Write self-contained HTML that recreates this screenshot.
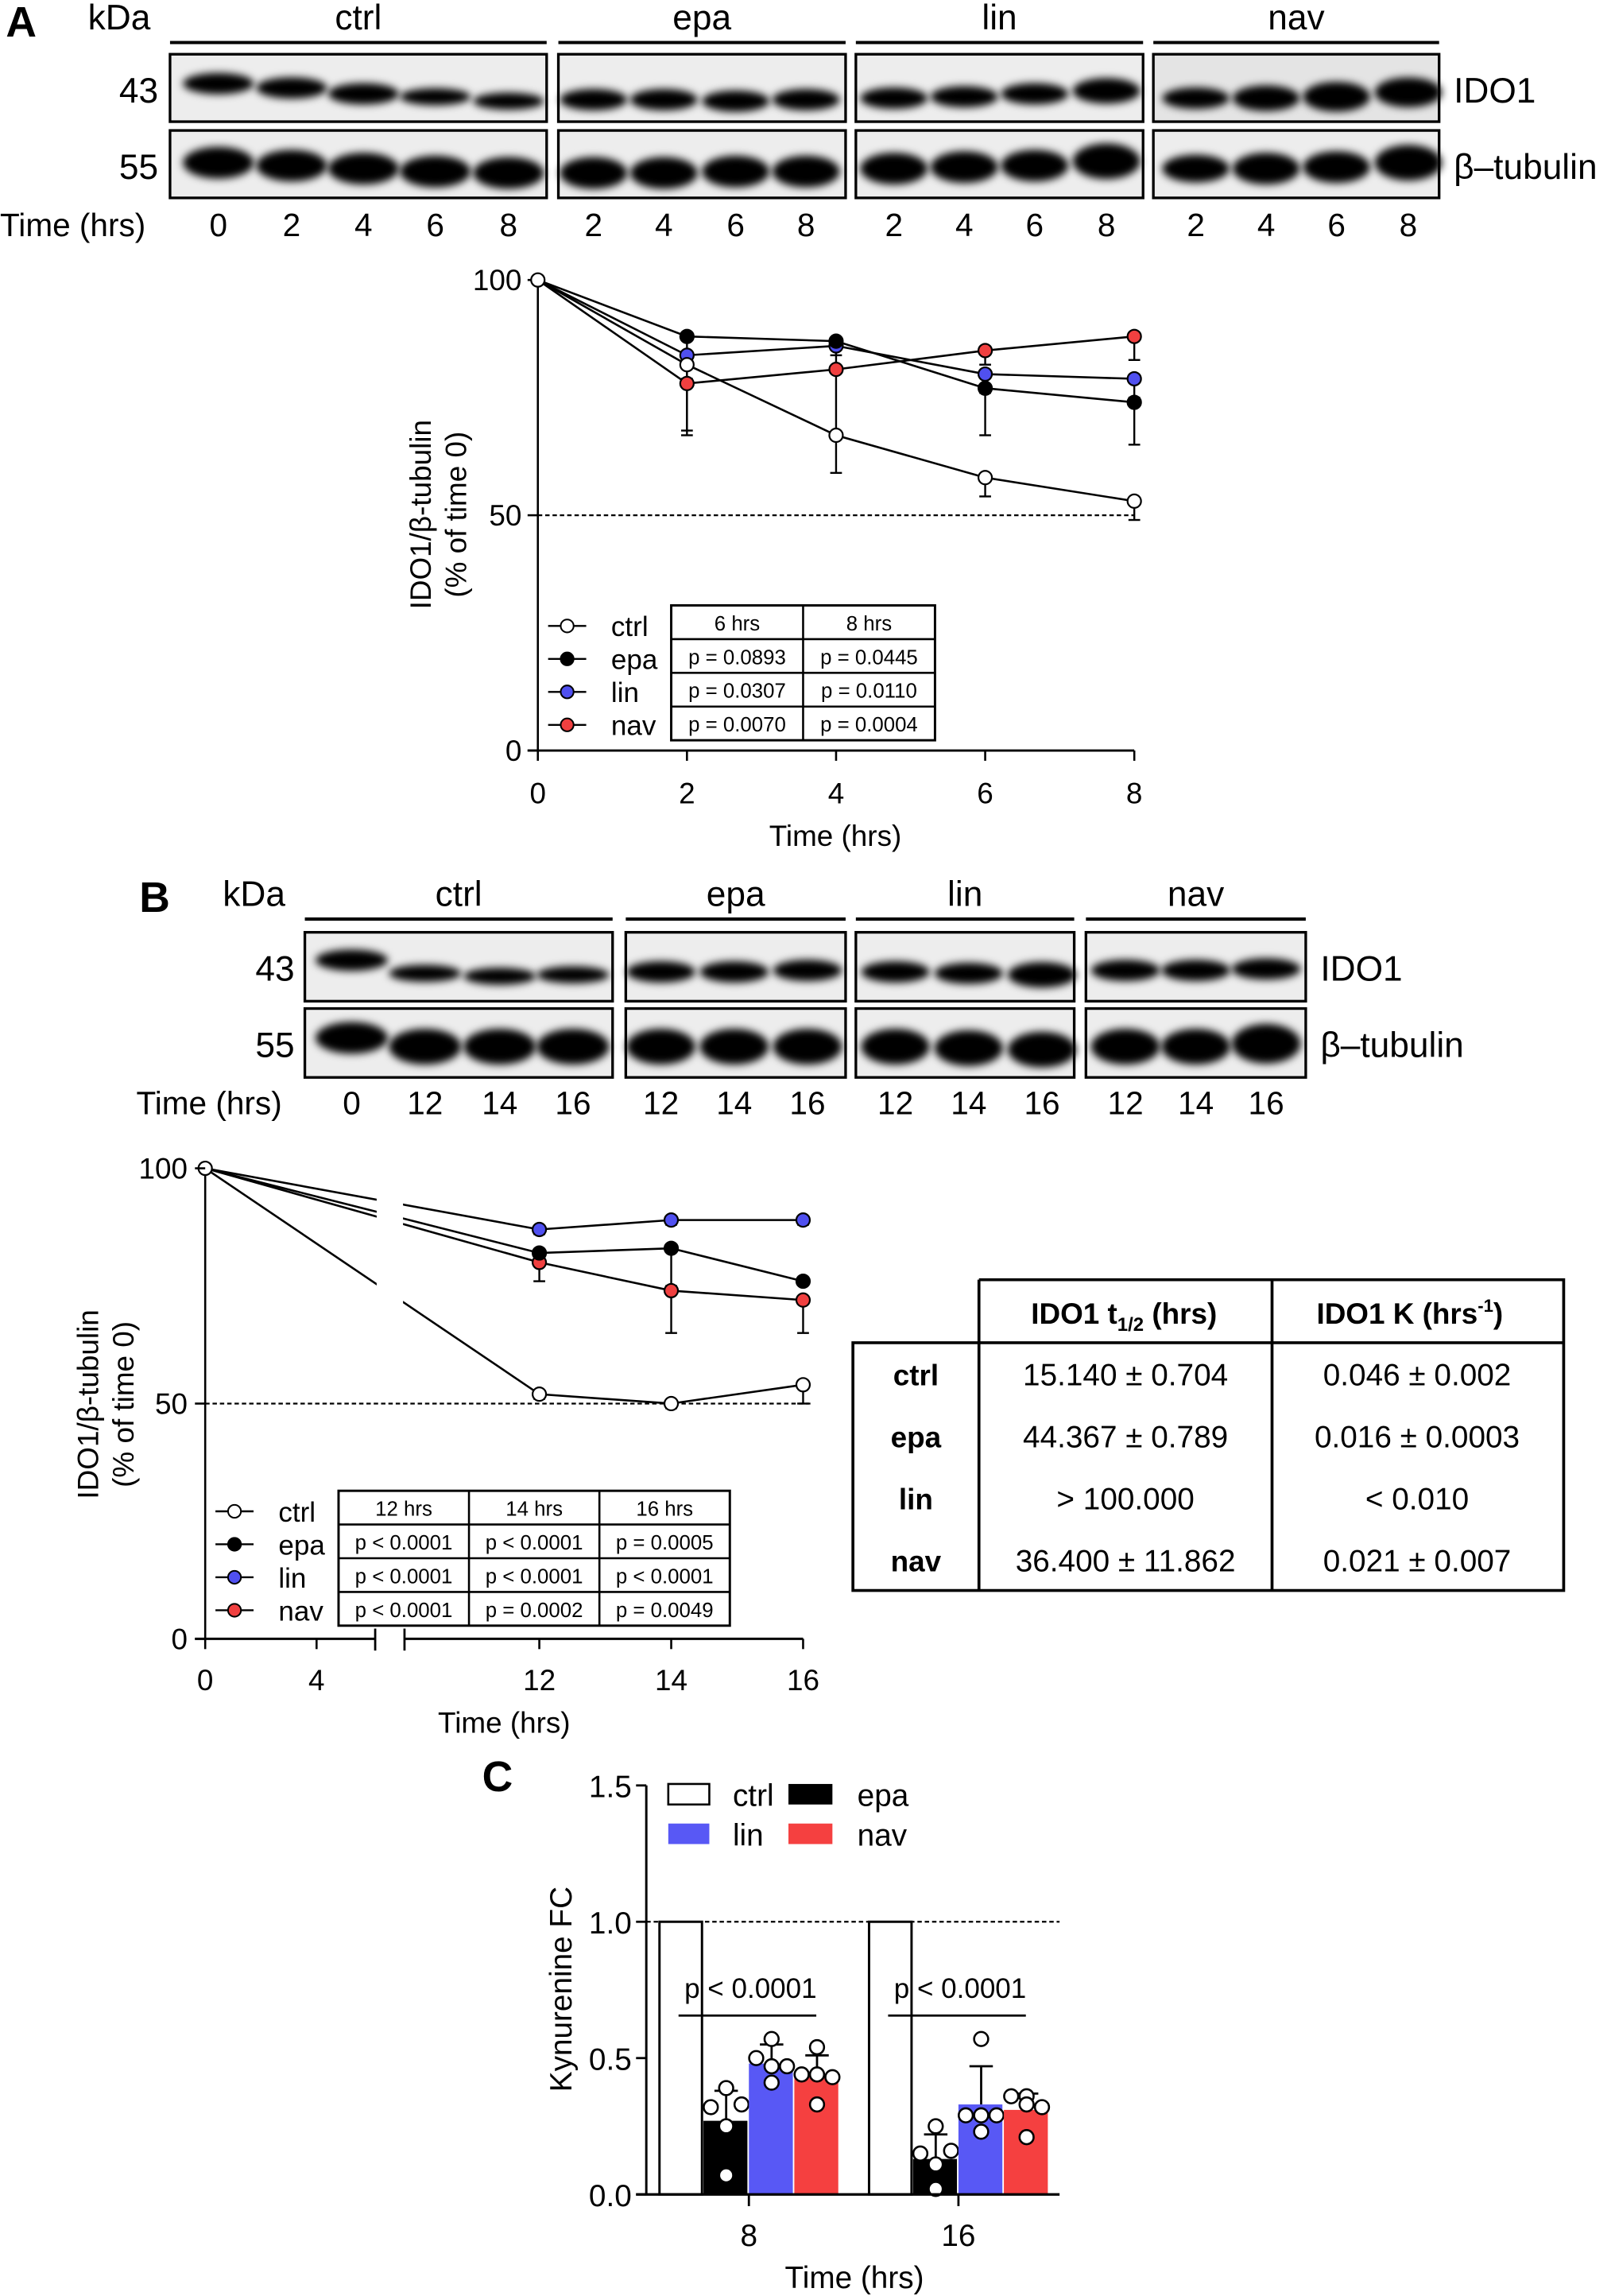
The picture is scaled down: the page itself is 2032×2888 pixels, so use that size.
<!DOCTYPE html>
<html><head><meta charset="utf-8"><style>
html,body{margin:0;padding:0;background:#fff}
svg{display:block}
text{font-family:"Liberation Sans Narrow","Liberation Sans",sans-serif;fill:#000}
.w{font-family:"Liberation Sans",sans-serif}
</style></head><body>
<svg id="fig" width="2032" height="2888" viewBox="0 0 1102 1566.3" xmlns="http://www.w3.org/2000/svg">
<defs><filter id="bl" x="-20%" y="-60%" width="140%" height="220%"><feGaussianBlur stdDeviation="2.8"/></filter></defs>
<g id="blots"></g>
<g id="chartA"></g>
<g id="chartB"></g>
<g id="tbl"></g>
<g id="chartC"></g>
</svg>
<script>
// ---------- Chart A data ----------
const hrsA=[0,2,4,6,8];
const ctrlA=[100,82,67,58,53];
const epaA=[100,88,87,77,74];
const linA=[100,84,86,80,79];
const navA=[100,78,81,85,88];
const ctrlSdA=[0,14,8,4,4];
const epaSdA=[0,5,3,10,9];
const linSdA=[0,5,5,4,4];
const navSdA=[0,11,14,3,5];
const tickA=[0,2,4,6,8];
const ytickA=[0,50,100];
// ---------- Chart B data ----------
const hrsB=[0,12,14,16];
const ctrlB=[100,52,50,54];
const epaB=[100,82,83,76];
const linB=[100,87,89,89];
const navB=[100,80,74,72];
const ctrlSdB=[0,1,1,4];
const epaSdB=[0,2,8,0];
const linSdB=[0,1,1,1];
const navSdB=[0,4,9,7];
const tickB=[0,4,12,14,16];
// ---------- Chart C data ----------
const groupsC=['8','16'];
const ctrlC=[1,1];
const epaC=[0.27,0.13];
const linC=[0.48,0.33];
const navC=[0.43,0.31];
const epaSdC=[0.11,0.09];
const linSdC=[0.07,0.14];
const navSdC=[0.08,0.06];
const epaPtsC=[[0.39,0.32,0.33,0.25,0.07],[0.25,0.15,0.16,0.11,0.02]];
const linPtsC=[[0.57,0.50,0.47,0.47,0.41],[0.57,0.29,0.29,0.29,0.23]];
const navPtsC=[[0.54,0.44,0.44,0.43,0.33],[0.36,0.36,0.33,0.32,0.21]];
const ytickC=[0,0.5,1.0,1.5];

const NS='http://www.w3.org/2000/svg';
function mk(tag,at,par){const e=document.createElementNS(NS,tag);for(const k in at)e.setAttribute(k,at[k]);par.appendChild(e);return e;}
function tx(s,x,y,sz,par,anc,extra){const e=mk('text',Object.assign({x:x,y:y,'font-size':sz,'text-anchor':anc||'start'},extra||{}),par);e.textContent=s;return e;}

// ---------- Blots ----------
const B=document.getElementById('blots');
let e;
e=tx('A',4,25,29,B,'start',{'font-weight':'bold',class:'w'});

e=tx('B',95,622,29,B,'start',{'font-weight':'bold',class:'w'});

e=tx('C',329,1222,29,B,'start',{'font-weight':'bold',class:'w'});


function blotSet(cfg){
  e=tx('kDa',cfg.kx,cfg.ty,24,B,'start');
  
  e=tx('43',cfg.kx2,cfg.r1+33,24,B,'end');
  
  e=tx('55',cfg.kx2,cfg.r2+33,24,B,'end');
  
  e=tx('Time (hrs)',cfg.tx,cfg.tty,22,B,'start');
  
  const last=cfg.groups[cfg.groups.length-1];
  e=tx('IDO1',last.x1+10,cfg.r1+33,24,B,'start');
  
  e=tx('β–tubulin',last.x1+10,cfg.r2+33,24,B,'start');
  
  cfg.groups.forEach((g,gi)=>{
    e=mk('line',{x1:g.x0,x2:g.x1,y1:cfg.ly,y2:cfg.ly,stroke:'#000','stroke-width':2.2},B);
    
    e=tx(g.n,(g.x0+g.x1)/2,cfg.ty,24,B,'middle');
    
    [cfg.r1,cfg.r2].forEach((ry,ri)=>{
      e=mk('rect',{x:g.x0,y:ry,width:g.x1-g.x0,height:cfg.rh,fill:ri==0&&g.n=='nav'&&cfg.ty<100?'#e4e4e4':'#ededed',stroke:'#000','stroke-width':1.8},B);
      
      g.lanes.forEach((lx,li)=>{
        const dy=ri==0?g.b1[li]:g.b2[li];
        const th=ri==0?g.t1[li]*1.45:g.t2[li]*1.35;
        e=mk('ellipse',{cx:lx,cy:ry+dy,rx:(g.x1-g.x0)/g.lanes.length*0.47,ry:th,fill:'#000',filter:'url(#bl)'},B);
        
      });
    });
    g.lanes.forEach((lx,li)=>{
      e=tx(g.lab[li],lx,cfg.tty,22,B,'middle');
      
    });
  });
}
blotSet({kx:60,kx2:108,ty:20,ly:29,r1:37,r2:89,rh:46,tx:0,tty:161,groups:[
 {n:'ctrl',x0:116,x1:373,lanes:[149,199,248,297,347],lab:['0','2','4','6','8'],b1:[20,23,27,29,32],t1:[5,5,5,4,4],b2:[22,24,26,28,29],t2:[8,8,8,8,8]},
 {n:'epa',x0:381,x1:577,lanes:[405,453,502,550],lab:['2','4','6','8'],b1:[31,31,32,31],t1:[5,5,5,5],b2:[29,29,28,28],t2:[8,8,8,8]},
 {n:'lin',x0:584,x1:780,lanes:[610,658,706,755],lab:['2','4','6','8'],b1:[30,29,27,25],t1:[5,5,5,6],b2:[26,25,24,21],t2:[8,8,8,9]},
 {n:'nav',x0:787,x1:982,lanes:[816,864,912,961],lab:['2','4','6','8'],b1:[30,30,29,26],t1:[5,6,7,7],b2:[26,26,25,22],t2:[7,8,8,9]}]});
blotSet({kx:152,kx2:201,ty:618,ly:627,r1:636,r2:688,rh:47,tx:93,tty:760,groups:[
 {n:'ctrl',x0:208,x1:418,lanes:[240,290,341,391],lab:['0','12','14','16'],b1:[19,28,30,29],t1:[5,4,4,4],b2:[20,26,26,26],t2:[8,9,9,9]},
 {n:'epa',x0:427,x1:577,lanes:[451,501,551],lab:['12','14','16'],b1:[27,27,26],t1:[5,5,5],b2:[26,26,26],t2:[9,9,9]},
 {n:'lin',x0:584,x1:733,lanes:[611,661,711],lab:['12','14','16'],b1:[27,28,29],t1:[5,5,6],b2:[26,27,28],t2:[9,9,9]},
 {n:'nav',x0:741,x1:891,lanes:[768,816,864],lab:['12','14','16'],b1:[26,26,25],t1:[5,5,5],b2:[26,26,24],t2:[9,9,10]}]});

// ---------- Line chart helper ----------
const COLORS={ctrl:'#fff',epa:'#000',lin:'#5050f0',nav:'#f04040'};
function lineChart(G,xf,yf,hrs,series,sds,opt){
  e=mk('line',{x1:xf(hrs[0]),x2:opt.dashEnd,y1:yf(50),y2:yf(50),stroke:'#000','stroke-width':1.2,'stroke-dasharray':'3,2'},G);
  
  const names=['ctrl','epa','lin','nav'];
  names.forEach((n,si)=>{
    const v=series[si],sd=sds[si];
    v.forEach((val,i)=>{ if(sd[i]>0){
      const x=xf(hrs[i]);
      e=mk('line',{x1:x,x2:x,y1:yf(val),y2:yf(val-sd[i]),stroke:'#000','stroke-width':1.3},G);
      
      e=mk('line',{x1:x-4,x2:x+4,y1:yf(val-sd[i]),y2:yf(val-sd[i]),stroke:'#000','stroke-width':1.3},G);
      
    }});
    e=mk('polyline',{points:v.map((val,i)=>xf(hrs[i])+','+yf(val)).join(' '),fill:'none',stroke:'#000','stroke-width':1.4},G);
    
  });
  if(opt.breakRect){e=mk('rect',opt.breakRect,G);}
  names.slice().reverse().forEach((n)=>{
    const si=names.indexOf(n);
    series[si].forEach((val,i)=>{
      if(i==0&&n!='ctrl')return;
      e=mk('circle',{cx:xf(hrs[i]),cy:yf(val),r:4.6,fill:COLORS[n],stroke:'#000','stroke-width':1.2},G);
      
    });
  });
}
function legendTable(G,lx,tx0,ty,colW,heads,rows){
  const names=['ctrl','epa','lin','nav'];
  names.forEach((n,i)=>{
    const y=ty+14+i*22.5;
    e=mk('line',{x1:lx,x2:lx+26,y1:y,y2:y,stroke:'#000','stroke-width':1.3},G);
    
    e=mk('circle',{cx:lx+13,cy:y,r:4.4,fill:COLORS[n],stroke:'#000','stroke-width':1.1},G);
    
    e=tx(n,lx+43,y+7,19,G,'start');
    
  });
  const H=23,W=colW*heads.length;
  e=mk('rect',{x:tx0,y:ty,width:W,height:H*4,fill:'none',stroke:'#000','stroke-width':1.6},G);
  
  for(let r=1;r<4;r++){mk('line',{x1:tx0,x2:tx0+W,y1:ty+r*H,y2:ty+r*H,stroke:'#000','stroke-width':1.4},G);}
  for(let c=1;c<heads.length;c++){mk('line',{x1:tx0+c*colW,x2:tx0+c*colW,y1:ty,y2:ty+H*4,stroke:'#000','stroke-width':1.4},G);}
  heads.forEach((h,c)=>{e=tx(h,tx0+c*colW+colW/2,ty+17,14,G,'middle');});
  rows.forEach((row,r)=>row.forEach((s,c)=>{e=tx(s,tx0+c*colW+colW/2,ty+(r+1)*H+17,14,G,'middle');}));
}

// ---------- Chart A ----------
const GA=document.getElementById('chartA');
const xA=h=>367+h*50.875, yA=v=>512-v*3.21;
e=mk('line',{x1:367,x2:367,y1:yA(100),y2:yA(0),stroke:'#000','stroke-width':1.4},GA);

e=mk('line',{x1:360,x2:xA(8),y1:yA(0),y2:yA(0),stroke:'#000','stroke-width':1.6},GA);

ytickA.forEach(t=>{mk('line',{x1:360,x2:367,y1:yA(t),y2:yA(t),stroke:'#000','stroke-width':1.4},GA);
 e=tx(String(t),356,yA(t)+7,20,GA,'end');});
tickA.forEach(t=>{mk('line',{x1:xA(t),x2:xA(t),y1:yA(0),y2:yA(0)+7,stroke:'#000','stroke-width':1.4},GA);
 e=tx(String(t),xA(t),548,20,GA,'middle');});
e=tx('Time (hrs)',570,577,20,GA,'middle');
e=tx('IDO1/β-tubulin',0,0,20,GA,'middle',{transform:'translate(294,351) rotate(-90)',class:'w'});
e=tx('(% of time 0)',0,0,20,GA,'middle',{transform:'translate(318,351) rotate(-90)',class:'w'});
lineChart(GA,xA,yA,hrsA,[ctrlA,epaA,linA,navA],[ctrlSdA,epaSdA,linSdA,navSdA],{dashEnd:xA(8)});
legendTable(GA,374,458,413,90,['6 hrs','8 hrs'],[['p = 0.0893','p = 0.0445'],['p = 0.0307','p = 0.0110'],['p = 0.0070','p = 0.0004']]);

// ---------- Chart B ----------
const GB=document.getElementById('chartB');
const xB=h=>h<=6?140+h*19:368+(h-12)*45, yB=v=>1118-v*3.21;
e=mk('line',{x1:140,x2:140,y1:yB(100),y2:yB(0),stroke:'#000','stroke-width':1.4},GB);

lineChart(GB,xB,yB,hrsB,[ctrlB,epaB,linB,navB],[ctrlSdB,epaSdB,linSdB,navSdB],{dashEnd:555,breakRect:{x:257,y:790,width:18,height:160,fill:'#fff'}});
e=mk('line',{x1:133,x2:256,y1:yB(0),y2:yB(0),stroke:'#000','stroke-width':1.6},GB);

e=mk('line',{x1:276,x2:xB(16),y1:yB(0),y2:yB(0),stroke:'#000','stroke-width':1.6},GB);

[256,276].forEach(x=>{e=mk('line',{x1:x,x2:x,y1:yB(0)-7,y2:yB(0)+8,stroke:'#000','stroke-width':1.5},GB);});
[0,50,100].forEach(t=>{mk('line',{x1:133,x2:140,y1:yB(t),y2:yB(t),stroke:'#000','stroke-width':1.4},GB);
 e=tx(String(t),128,yB(t)+7,20,GB,'end');});
tickB.forEach(t=>{mk('line',{x1:xB(t),x2:xB(t),y1:yB(0),y2:yB(0)+7,stroke:'#000','stroke-width':1.4},GB);
 e=tx(String(t),xB(t),1153,20,GB,'middle');});
e=tx('Time (hrs)',344,1182,20,GB,'middle');
e=tx('IDO1/β-tubulin',0,0,20,GB,'middle',{transform:'translate(67,958) rotate(-90)',class:'w'});
e=tx('(% of time 0)',0,0,20,GB,'middle',{transform:'translate(91,958) rotate(-90)',class:'w'});
legendTable(GB,147,231,1017,89,['12 hrs','14 hrs','16 hrs'],[['p < 0.0001','p < 0.0001','p = 0.0005'],['p < 0.0001','p < 0.0001','p < 0.0001'],['p < 0.0001','p = 0.0002','p = 0.0049']]);

// ---------- Half-life table ----------
const GT=document.getElementById('tbl');
e=mk('path',{d:'M668 873 H1067 V1085 H582 V916 H1067 M668 873 V1085 M868 873 V1085',fill:'none',stroke:'#000','stroke-width':2},GT);

e=tx('IDO1 t',767,903,20,GT,'middle',{'font-weight':'bold'});
const sub=mk('tspan',{'font-size':13,dy:5},e);sub.textContent='1/2';
const t2=mk('tspan',{dy:-5},e);t2.textContent=' (hrs)';

e=tx('IDO1 K (hrs',962,903,20,GT,'middle',{'font-weight':'bold'});
const sup=mk('tspan',{'font-size':12,dy:-8},e);sup.textContent='-1';
const t3=mk('tspan',{dy:8},e);t3.textContent=')';

[['ctrl','15.140 ± 0.704','0.046 ± 0.002'],['epa','44.367 ± 0.789','0.016 ± 0.0003'],['lin','> 100.000','< 0.010'],['nav','36.400 ± 11.862','0.021 ± 0.007']].forEach((r,i)=>{
  const y=945+i*42.3;
  e=tx(r[0],625,y,20,GT,'middle',{'font-weight':'bold'});
  e=tx(r[1],768,y,21,GT,'middle');
  e=tx(r[2],967,y,21,GT,'middle');
});

// ---------- Chart C ----------
const GC=document.getElementById('chartC');
const yC=v=>1497-v*186;
const gx=[511,654]; const bw=31;
const offs={ctrl:-46.5,epa:-15.5,lin:15.5,nav:46.5};
const jit={epa:[0,-1,1,0,0],lin:[0,-1,0,1,0],nav:[0,-1,0,1,0]};
e=mk('line',{x1:441,x2:723,y1:yC(1),y2:yC(1),stroke:'#000','stroke-width':1.2,'stroke-dasharray':'3,2'},GC);

const barSets=[['ctrl',ctrlC,null,null],['epa',epaC,epaSdC,epaPtsC],['lin',linC,linSdC,linPtsC],['nav',navC,navSdC,navPtsC]];
const fillC={ctrl:'#fff',epa:'#000',lin:'#5858f5',nav:'#f54040'};
groupsC.forEach((g,gi)=>{
  barSets.forEach(([n,vals,sd,pts])=>{
    const cx=gx[gi]+offs[n];
    if(sd){
      e=mk('line',{x1:cx,x2:cx,y1:yC(vals[gi]),y2:yC(vals[gi]+sd[gi]),stroke:'#000','stroke-width':1.5},GC);
      
      e=mk('line',{x1:cx-8,x2:cx+8,y1:yC(vals[gi]+sd[gi]),y2:yC(vals[gi]+sd[gi]),stroke:'#000','stroke-width':1.5},GC);
      
    }
    e=mk('rect',{x:cx-bw/2+(n=='ctrl'?1:0),y:yC(vals[gi]),width:bw-(n=='ctrl'?2:1),height:vals[gi]*186,fill:fillC[n],stroke:n=='ctrl'?'#000':'none','stroke-width':1.6},GC);
    
    if(pts){
      pts[gi].forEach((p,k)=>{e=mk('circle',{cx:cx+jit[n][k]*10.5,cy:yC(p),r:4.8,fill:'#fff',stroke:'#000','stroke-width':1.4},GC);
        });}
  });
  const x0=gx[gi]-48,x1=gx[gi]+46;
  e=mk('line',{x1:x0,x2:x1,y1:1375,y2:1375,stroke:'#000','stroke-width':1.5},GC);
  
  e=tx('p < 0.0001',x0+4,1363,19,GC,'start');
  mk('line',{x1:gx[gi],x2:gx[gi],y1:1497,y2:1505,stroke:'#000','stroke-width':1.5},GC);
  e=tx(g,gx[gi],1532,21,GC,'middle');
});
e=mk('line',{x1:441,x2:441,y1:yC(1.5),y2:1497,stroke:'#000','stroke-width':1.6},GC);

e=mk('line',{x1:434,x2:723,y1:1497,y2:1497,stroke:'#000','stroke-width':1.8},GC);

ytickC.forEach(t=>{mk('line',{x1:434,x2:441,y1:yC(t),y2:yC(t),stroke:'#000','stroke-width':1.5},GC);
 e=tx(t.toFixed(1),431,yC(t)+8,21,GC,'end');});
e=tx('Kynurenine FC',0,0,21,GC,'middle',{transform:'translate(390,1357) rotate(-90)',class:'w'});
e=tx('Time (hrs)',583,1561,21,GC,'middle');
[['ctrl',456,1217,500],['epa',538,1217,585],['lin',456,1244,500],['nav',538,1244,585]].forEach(([n,x,y,tx0])=>{
  e=mk('rect',{x:x,y:y,width:n=='ctrl'||n=='lin'?28:30,height:14,fill:fillC[n],stroke:n=='ctrl'?'#000':'none','stroke-width':1.4},GC);
  
  e=tx(n,tx0,y+15,21,GC,'start');
});
</script>
</body></html>
